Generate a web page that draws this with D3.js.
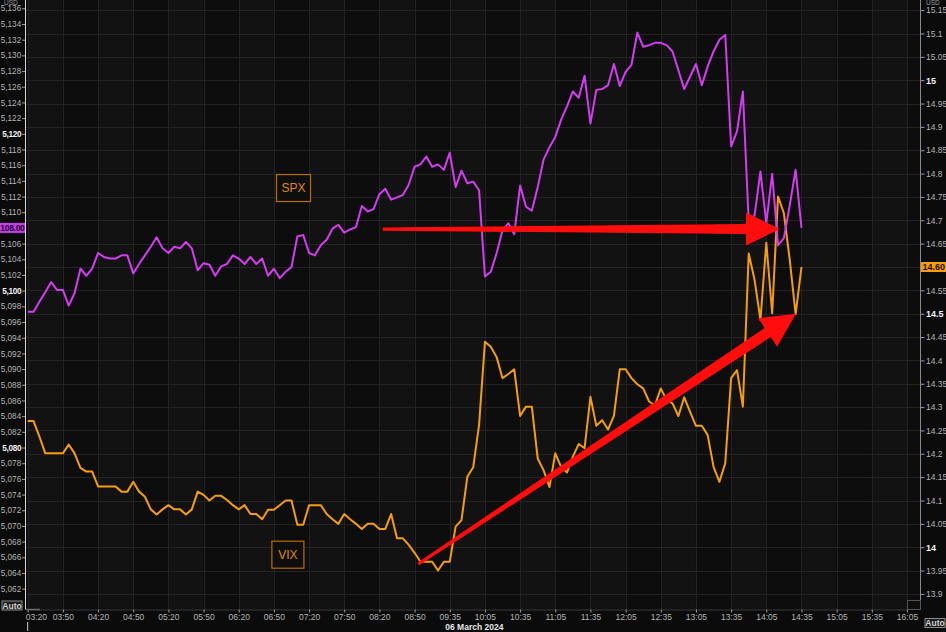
<!DOCTYPE html>
<html><head><meta charset="utf-8">
<script src="https://cdn.jsdelivr.net/npm/d3@7"></script>
<style>
html,body{margin:0;padding:0;background:#0b0b0b;overflow:hidden;}
svg{display:block;font-family:"Liberation Sans",Arial,sans-serif;}
</style></head><body>
<svg id="chart" width="946" height="632"></svg>
<script>
// ---------- data ----------
const timeLabels = ["03:20","03:50","04:20","04:50","05:20","05:50","06:20","06:50","07:20","07:50","08:20","08:50",
  "09:35","10:05","10:35","11:05","11:35","12:05","12:35","13:05","13:35","14:05","14:35","15:05","15:35","16:05"];
const timeSlots = timeLabels.map((d, i) => i * 6);   // 5-minute slots, 6 per label
const dateLabel = "06 March 2024";

const spx = [5097.3,5097.3,5098.6,5099.8,5101.1,5100.1,5100.1,5098.1,5099.7,5102.8,
 5101.9,5102.8,5104.8,5104.3,5104.1,5104.1,5104.5,5104.5,5102.2,5103.4,
 5104.5,5105.6,5106.8,5105.4,5104.8,5105.6,5105.4,5106.2,5105.4,5102.6,
 5103.5,5103.3,5101.9,5103.1,5103.4,5104.5,5104.1,5103.4,5104.3,5103.4,
 5104.1,5101.9,5102.8,5101.6,5102.4,5103.0,5106.9,5107.1,5104.8,5104.5,
 5105.8,5106.5,5107.9,5108.4,5107.4,5107.8,5108.1,5110.8,5110.1,5110.4,
 5112.3,5113.0,5111.6,5111.9,5112.2,5113.5,5115.8,5116.1,5117.1,5115.8,
 5116.1,5115.4,5117.6,5113.2,5115.3,5113.7,5113.9,5112.8,5101.8,5102.4,
 5104.8,5107.7,5108.6,5107.2,5113.4,5110.7,5110.2,5113.2,5116.7,5118.3,
 5119.6,5121.8,5123.5,5125.4,5124.6,5127.4,5121.3,5125.6,5125.7,5126.2,
 5128.9,5126.1,5127.9,5128.8,5132.9,5131.1,5131.3,5131.6,5131.6,5131.3,
 5130.5,5128.1,5125.7,5127.3,5128.9,5126.2,5128.6,5130.5,5132.0,5132.6,
 5118.4,5120.3,5125.4,5108.7,5109.6,5115.2,5108.6,5114.9,5105.8,5106.7,
 5110.9,5115.4,5108.0];

const vix = [14.270,14.270,14.237,14.201,14.201,14.201,14.201,14.220,14.201,14.170,
 14.162,14.162,14.130,14.130,14.130,14.130,14.119,14.119,14.140,14.119,
 14.108,14.081,14.070,14.081,14.090,14.081,14.081,14.070,14.081,14.119,
 14.112,14.100,14.110,14.110,14.101,14.090,14.081,14.090,14.071,14.071,
 14.060,14.080,14.080,14.090,14.100,14.100,14.048,14.048,14.090,14.090,
 14.090,14.071,14.060,14.050,14.071,14.060,14.050,14.039,14.050,14.050,
 14.039,14.039,14.071,14.019,14.019,14.005,13.988,13.969,13.969,13.969,
 13.950,13.969,13.969,14.044,14.058,14.151,14.171,14.262,14.440,14.429,
 14.407,14.362,14.371,14.381,14.281,14.301,14.301,14.190,14.165,14.129,
 14.201,14.172,14.160,14.194,14.221,14.212,14.322,14.260,14.272,14.252,
 14.281,14.381,14.381,14.362,14.349,14.340,14.312,14.304,14.340,14.315,
 14.308,14.281,14.321,14.290,14.260,14.260,14.240,14.172,14.140,14.180,
 14.362,14.379,14.301,14.629,14.572,14.487,14.652,14.501,14.751,14.715,
 14.615,14.499,14.600];

const spxTicks = d3.range(5062, 5137, 2);
const vixTicks = d3.range(0, 26).map(i => +(13.9 + i * 0.05).toFixed(2));
const spxLast = 5108.00, vixLast = 14.60;
const seriesNames = ["SPX", "VIX"];
// annotation anchors in data units (slot, value)
const spxLabelAt = [45.26, 5113.15], vixLabelAt = [44.3, 13.985];
const spxArrow = [[60.56, 5107.85], [128.33, 5107.85]];
const vixArrow = [[66.63, 13.964], [131.07, 14.50]];

// ---------- layout ----------
const W = 946, H = 632;
const L = 25.5, R = 920.5, T = 0, B = 609.5;
const svg = d3.select("#chart");

const x = d3.scaleLinear().domain([0, 150]).range([27.7, 907]);
const ySpx = d3.scaleLinear().domain([5062, 5134]).range([588.7, 24]);
const yVix = d3.scaleLinear().domain([14, 15]).range([547.2, 80.2]);

svg.append("rect").attr("width", W).attr("height", H).attr("fill", "#0b0b0b");

// alternating vertical bands
const bandEdges = [L, ...timeSlots.map(s => x(s)), R];
const plot = svg.append("g");
for (let k = 0; k < bandEdges.length - 1; k++) {
  plot.append("rect").attr("x", bandEdges[k]).attr("y", T)
    .attr("width", bandEdges[k + 1] - bandEdges[k]).attr("height", B - T)
    .attr("fill", (k % 2 === 1) ? "#121212" : "#0d0d0d");
}
// grid
plot.selectAll("line.hg").data(vixTicks).enter().append("line")
  .attr("x1", L).attr("x2", R).attr("y1", d => Math.round(yVix(d)) + 0.5).attr("y2", d => Math.round(yVix(d)) + 0.5)
  .attr("stroke", "#232323").attr("stroke-width", 1);
plot.selectAll("line.vg").data(timeSlots).enter().append("line")
  .attr("y1", T).attr("y2", B).attr("x1", d => Math.round(x(d)) + 0.5).attr("x2", d => Math.round(x(d)) + 0.5)
  .attr("stroke", "#232323").attr("stroke-width", 1);

// lines
const lineSpx = d3.line().x((d, i) => x(i)).y(d => ySpx(d));
const lineVix = d3.line().x((d, i) => x(i)).y(d => yVix(d));
svg.append("path").datum(vix).attr("d", lineVix).attr("fill", "none")
  .attr("stroke", "#f59d0c").attr("stroke-width", 2).attr("stroke-linejoin", "round");
svg.append("path").datum(spx).attr("d", lineSpx).attr("fill", "none")
  .attr("stroke", "#d43cf2").attr("stroke-width", 2).attr("stroke-linejoin", "round");

// series label boxes
function labelBox(txt, cx, cy, w, h) {
  const g = svg.append("g");
  g.append("rect").attr("x", cx - w / 2 + 0.5).attr("y", cy - h / 2 + 0.5).attr("width", w).attr("height", h)
    .attr("fill", "#0e0e0e").attr("stroke", "#b86e00").attr("stroke-width", 1.2);
  g.append("text").attr("x", cx + 0.5).attr("y", cy + 4.5).attr("text-anchor", "middle")
    .attr("fill", "#e08b00").attr("font-size", 12).text(txt);
}
labelBox(seriesNames[0], x(spxLabelAt[0]), ySpx(spxLabelAt[1]), 34, 27);
labelBox(seriesNames[1], x(vixLabelAt[0]), yVix(vixLabelAt[1]), 32, 27);

// red arrows
const defs = svg.append("defs");
defs.append("filter").attr("id", "soft").append("feGaussianBlur").attr("stdDeviation", 0.6);
function arrow(p0, p1, w0, w1, hl, hw) {
  const dx = p1[0] - p0[0], dy = p1[1] - p0[1], len = Math.hypot(dx, dy);
  const ux = dx / len, uy = dy / len, nx = -uy, ny = ux;
  const bx = p1[0] - ux * hl, by = p1[1] - uy * hl;
  const pts = [
    [p0[0] + nx * w0, p0[1] + ny * w0], [bx + nx * w1, by + ny * w1], [bx + nx * hw, by + ny * hw],
    p1, [bx - nx * hw, by - ny * hw], [bx - nx * w1, by - ny * w1], [p0[0] - nx * w0, p0[1] - ny * w0]];
  svg.append("path").attr("d", "M" + pts.map(p => p.join(",")).join("L") + "Z")
    .attr("fill", "#ff0a0a").attr("filter", "url(#soft)");
}
arrow([x(spxArrow[0][0]), ySpx(spxArrow[0][1])], [x(spxArrow[1][0]), ySpx(spxArrow[1][1])], 1.6, 5, 34, 16.5);
arrow([x(vixArrow[0][0]), yVix(vixArrow[0][1])], [x(vixArrow[1][0]), yVix(vixArrow[1][1])], 1.6, 5.5, 34, 17);

// ---------- axes ----------
svg.append("rect").attr("x", 0).attr("y", 0).attr("width", L).attr("height", H).attr("fill", "#0b0b0b");
svg.append("rect").attr("x", R).attr("y", 0).attr("width", W - R).attr("height", H).attr("fill", "#0b0b0b");
svg.append("rect").attr("x", 0).attr("y", B).attr("width", W).attr("height", H - B).attr("fill", "#0b0b0b");

const spxMajor = d => d % 20 === 0;
const axL = svg.append("g").attr("transform", `translate(${L},0)`)
  .call(d3.axisLeft(ySpx).tickValues(spxTicks).tickSize(3.5).tickSizeOuter(0).tickPadding(0.8)
    .tickFormat(d => d === spxLast ? "" : d3.format(",")(d)));
axL.select(".domain").remove();
axL.selectAll("line").attr("stroke", "#9a9a9a");
axL.selectAll("text").attr("font-family", null)
  .attr("font-size", 8.2)
  .attr("font-weight", d => spxMajor(d) ? "bold" : "normal")
  .attr("letter-spacing", d => spxMajor(d) ? -0.3 : 0)
  .attr("fill", d => spxMajor(d) ? "#f2f2f2" : "#b4b4b4");

const isMajor = d => Math.abs(d * 2 - Math.round(d * 2)) < 1e-6;
const axR = svg.append("g").attr("transform", `translate(${R},0)`)
  .call(d3.axisRight(yVix).tickValues(vixTicks).tickSize(4).tickSizeOuter(0).tickPadding(1.5)
    .tickFormat(d => Math.abs(d - vixLast) < 1e-6 ? "" : String(d)));
axR.select(".domain").remove();
axR.selectAll("line").attr("stroke", "#9a9a9a");
axR.selectAll("text").attr("font-family", null)
  .attr("font-size", d => isMajor(d) ? 9 : 8.5)
  .attr("font-weight", d => isMajor(d) ? "bold" : "normal")
  .attr("fill", d => isMajor(d) ? "#f2f2f2" : "#b4b4b4");

svg.append("line").attr("x1", L).attr("x2", L).attr("y1", 0).attr("y2", B).attr("stroke", "#d8d8d8").attr("stroke-width", 1);
svg.append("line").attr("x1", R).attr("x2", R).attr("y1", 0).attr("y2", B).attr("stroke", "#8a8a8a").attr("stroke-width", 1);

const axB = svg.append("g").attr("transform", `translate(0,${B})`)
  .call(d3.axisBottom(x).tickValues(timeSlots).tickSize(3).tickSizeOuter(0).tickPadding(1.5)
    .tickFormat((d, i) => timeLabels[i]));
axB.select(".domain").attr("stroke", "#3a3a3a");
axB.selectAll("line").attr("stroke", "#9a9a9a");
axB.selectAll("text").attr("font-family", null).attr("font-size", 8.5).attr("fill", "#b4b4b4")
  .attr("text-anchor", (d, i) => i === 0 ? "start" : "middle")
  .attr("dx", (d, i) => i === 0 ? -2.5 : 0);
svg.append("line").attr("x1", L).attr("x2", 40).attr("y1", B).attr("y2", B).attr("stroke", "#6a6a6a").attr("stroke-width", 1.5);
svg.append("line").attr("x1", x(0)).attr("x2", x(0)).attr("y1", 622).attr("y2", 631).attr("stroke", "#cfcfcf");
svg.append("text").attr("x", (x(timeSlots[12]) + x(timeSlots[13])) / 2 + 7).attr("y", 629.5).attr("text-anchor", "middle")
  .attr("font-size", 8.5).attr("font-weight", "bold").attr("fill", "#e6e6e6").text(dateLabel);

// last value badges
svg.append("rect").attr("x", 0).attr("y", ySpx(spxLast) - 5).attr("width", L - 0.5).attr("height", 10).attr("fill", "#c93cf0");
svg.append("text").attr("x", L - 1).attr("y", ySpx(spxLast) + 3.3).attr("text-anchor", "end")
  .attr("font-size", 8.5).attr("font-weight", "bold").attr("letter-spacing", -0.3).attr("fill", "#1a0620")
  .text(d3.format(".2f")(spxLast % 1000));
svg.append("rect").attr("x", R + 0.5).attr("y", yVix(vixLast) - 5).attr("width", W - R).attr("height", 10).attr("fill", "#f59d0c");
svg.append("text").attr("x", R + 2).attr("y", yVix(vixLast) + 3.3)
  .attr("font-size", 9).attr("font-weight", "bold").attr("fill", "#1a1000").text(vixLast.toFixed(2));

// currency labels and Auto buttons
svg.append("text").attr("x", 4).attr("y", 5).attr("font-size", 6.5).attr("fill", "#9a9a9a").text("USD");
svg.append("text").attr("x", 926).attr("y", 5).attr("font-size", 6.5).attr("fill", "#9a9a9a").text("USD");
function autoBtn(x0, y0) {
  svg.append("rect").attr("x", x0 + 0.5).attr("y", y0 + 0.5).attr("width", 20).attr("height", 9)
    .attr("fill", "#1c1c1c").attr("stroke", "#8a8a8a").attr("stroke-width", 1);
  svg.append("text").attr("x", x0 + 10.5).attr("y", y0 + 8).attr("text-anchor", "middle")
    .attr("font-size", 8.5).attr("font-weight", "bold").attr("fill", "#d0d0d0").text("Auto");
}
autoBtn(1.5, 600.5);
autoBtn(924.5, 618);
svg.append("rect").attr("x", 907.5).attr("y", 600.5).attr("width", 13).attr("height", 9)
  .attr("fill", "none").attr("stroke", "#555");
</script>
</body></html>
